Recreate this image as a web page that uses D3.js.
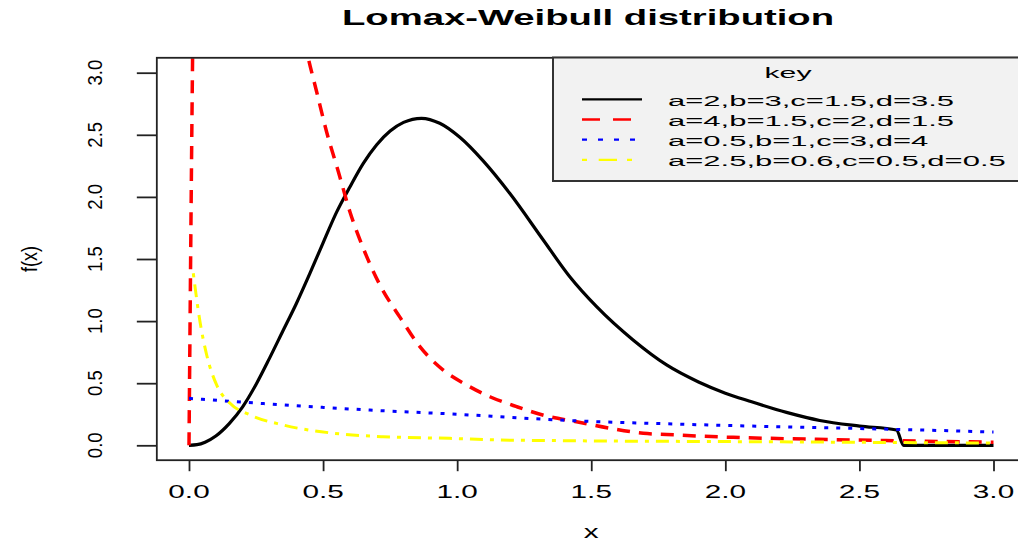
<!DOCTYPE html>
<html>
<head>
<meta charset="utf-8">
<script src="https://cdn.jsdelivr.net/npm/d3@7"></script>
<style>
  html, body { margin: 0; padding: 0; background: #fff; }
  svg { display: block; font-family: "Liberation Sans", Arial, sans-serif; }
</style>
</head>
<body>
<svg id="chart" width="1018" height="544"></svg>
<script>
// ---------- data ----------
const titleText = "Lomax-Weibull distribution";
const xLabel = "x";
const yLabel = "f(x)";
const legendTitle = "key";
const seriesNames = [
  "a=2,b=3,c=1.5,d=3.5",
  "a=4,b=1.5,c=2,d=1.5",
  "a=0.5,b=1,c=3,d=4",
  "a=2.5,b=0.6,c=0.5,d=0.5"
];
const xTicks = [0, 0.5, 1, 1.5, 2, 2.5, 3];
const yTicks = [0, 0.5, 1, 1.5, 2, 2.5, 3];

const blackPts = [
  [0, 0], [0.03, 0.005], [0.06, 0.025], [0.1, 0.075], [0.15, 0.175],
  [0.2, 0.31], [0.25, 0.49], [0.3, 0.70], [0.35, 0.92], [0.4, 1.14],
  [0.45, 1.38], [0.5, 1.63], [0.55, 1.875], [0.6, 2.08], [0.65, 2.27],
  [0.7, 2.42], [0.75, 2.53], [0.8, 2.6], [0.867, 2.633], [0.935, 2.593],
  [1.01, 2.48], [1.097, 2.29], [1.196, 2.029], [1.321, 1.653],
  [1.42, 1.357], [1.52, 1.116], [1.656, 0.848], [1.781, 0.647],
  [1.9, 0.51], [2.0, 0.42], [2.091, 0.355], [2.228, 0.265],
  [2.352, 0.2], [2.501, 0.155], [2.638, 0.123], [2.665, 0], [2.7, 0], [3.0, 0]
];
const redPts = [
  [0, 0], [0.03, 5.0], [0.25, 5.0], [0.40, 3.6],
  [0.445, 3.116], [0.476, 2.847], [0.513, 2.525], [0.557, 2.203],
  [0.60, 1.881], [0.65, 1.586], [0.712, 1.291], [0.787, 1.03],
  [0.861, 0.794], [0.948, 0.606], [1.035, 0.486], [1.122, 0.391],
  [1.222, 0.311], [1.333, 0.236], [1.445, 0.19], [1.569, 0.137],
  [1.694, 0.097], [1.818, 0.083], [2.029, 0.064], [2.3, 0.05],
  [2.6, 0.038], [3.0, 0.025]
];
const bluePts = [
  [0, 0.378], [0.25, 0.34], [0.5, 0.305], [0.75, 0.275], [1.0, 0.25],
  [1.25, 0.218], [1.5, 0.192], [1.75, 0.175], [2.0, 0.16], [2.25, 0.147],
  [2.5, 0.135], [2.75, 0.122], [3.0, 0.107]
];
const yellowPts = [
  [0.016, 1.385], [0.041, 0.995], [0.066, 0.727], [0.103, 0.486],
  [0.153, 0.338], [0.228, 0.244], [0.352, 0.163], [0.539, 0.097],
  [0.724, 0.069], [0.973, 0.056], [1.152, 0.043], [1.408, 0.037],
  [2.09, 0.029], [3.0, 0.018]
];

// ---------- styling ----------
const series = [
  { pts: blackPts,  color: "#000000", width: 3.2, dash: null,       legDash: null,             curve: d3.curveMonotoneX },
  { pts: redPts,    color: "#ff0000", width: 3.5, dash: "13,9",     legDash: "18,13",          curve: d3.curveMonotoneX },
  { pts: bluePts,   color: "#0000ff", width: 3,   dash: "4,8",      legDash: "5,11",           curve: d3.curveMonotoneX },
  { pts: yellowPts, color: "#ffff00", width: 3,   dash: "4,7,13,7", legDash: "5,11.7,18.3,10", curve: d3.curveMonotoneX }
];

const svg = d3.select("#chart");
const x = d3.scaleLinear().domain([0, 3]).range([189, 993.5]);
const y = d3.scaleLinear().domain([0, 3]).range([445.3, 72.7]);

const frameL = x(-0.12), frameR = x(3.12), frameT = y(3.12), frameB = y(-0.12);

function stext(g, tx, ty, str, size, sx, anchor, weight) {
  return g.append("text")
    .attr("transform", `translate(${tx},${ty}) scale(${sx},1)`)
    .attr("font-size", size)
    .attr("text-anchor", anchor || "middle")
    .attr("font-weight", weight || "normal")
    .attr("fill", "#000")
    .text(str);
}

// clip
svg.append("defs").append("clipPath").attr("id", "plotclip")
  .append("rect")
  .attr("x", frameL).attr("y", frameT)
  .attr("width", frameR - frameL).attr("height", frameB - frameT);

// curves
const plotG = svg.append("g").attr("clip-path", "url(#plotclip)");
series.forEach(s => {
  const line = d3.line().x(d => x(d[0])).y(d => y(d[1])).curve(s.curve);
  plotG.append("path")
    .attr("d", line(s.pts))
    .attr("fill", "none")
    .attr("stroke", s.color)
    .attr("stroke-width", s.width)
    .attr("stroke-linejoin", "round")
    .attr("stroke-dasharray", s.dash);
});

// frame
svg.append("rect")
  .attr("x", frameL).attr("y", frameT)
  .attr("width", frameR - frameL).attr("height", frameB - frameT)
  .attr("fill", "none").attr("stroke", "#222").attr("stroke-width", 1.8);

// x axis
const xAxis = d3.axisBottom(x).tickValues(xTicks).tickSize(11).tickFormat("");
const xg = svg.append("g").attr("transform", `translate(0,${frameB})`).call(xAxis);
xg.select(".domain").remove();
xg.selectAll(".tick line").attr("stroke", "#222").attr("stroke-width", 1.8);
xTicks.forEach(t => stext(svg, x(t), 498, d3.format(".1f")(t), 18.6, 1.6, "middle"));

// y axis
const yAxis = d3.axisLeft(y).tickValues(yTicks).tickSize(20).tickFormat("");
const yg = svg.append("g").attr("transform", `translate(${frameL},0)`).call(yAxis);
yg.select(".domain").remove();
yg.selectAll(".tick line").attr("stroke", "#222").attr("stroke-width", 1.8);
yTicks.forEach(t => {
  svg.append("text")
    .attr("transform", `translate(101.5,${y(t)}) rotate(-90) scale(1,1.08)`)
    .attr("font-size", 18.6)
    .attr("text-anchor", "middle")
    .attr("fill", "#000")
    .text(d3.format(".1f")(t));
});

// axis titles
stext(svg, (frameL + frameR) / 2, 538, xLabel, 18.6, 1.6, "middle");
svg.append("text")
  .attr("transform", `translate(37,${(frameT + frameB) / 2}) rotate(-90) scale(1,1.2)`)
  .attr("font-size", 18)
  .attr("text-anchor", "middle")
  .attr("fill", "#000")
  .text(yLabel);

// title
stext(svg, 588, 25, titleText, 21.5, 1.78, "middle", "bold");

// legend
const legG = svg.append("g");
legG.append("rect")
  .attr("x", 553).attr("y", 57.5)
  .attr("width", 500).attr("height", 123.5)
  .attr("fill", "#f2f2f2").attr("stroke", "#333").attr("stroke-width", 2);
stext(legG, 788, 78.3, legendTitle, 15.5, 1.95, "middle");
series.forEach((s, i) => {
  const ly = 99.3 + i * 20.2;
  legG.append("line")
    .attr("x1", 582).attr("x2", 642).attr("y1", ly).attr("y2", ly)
    .attr("stroke", s.color).attr("stroke-width", 2.3)
    .attr("stroke-dasharray", s.legDash);
  stext(legG, 668, ly + 6.5, seriesNames[i], 15.5, 2.0, "start");
});
</script>
</body>
</html>
